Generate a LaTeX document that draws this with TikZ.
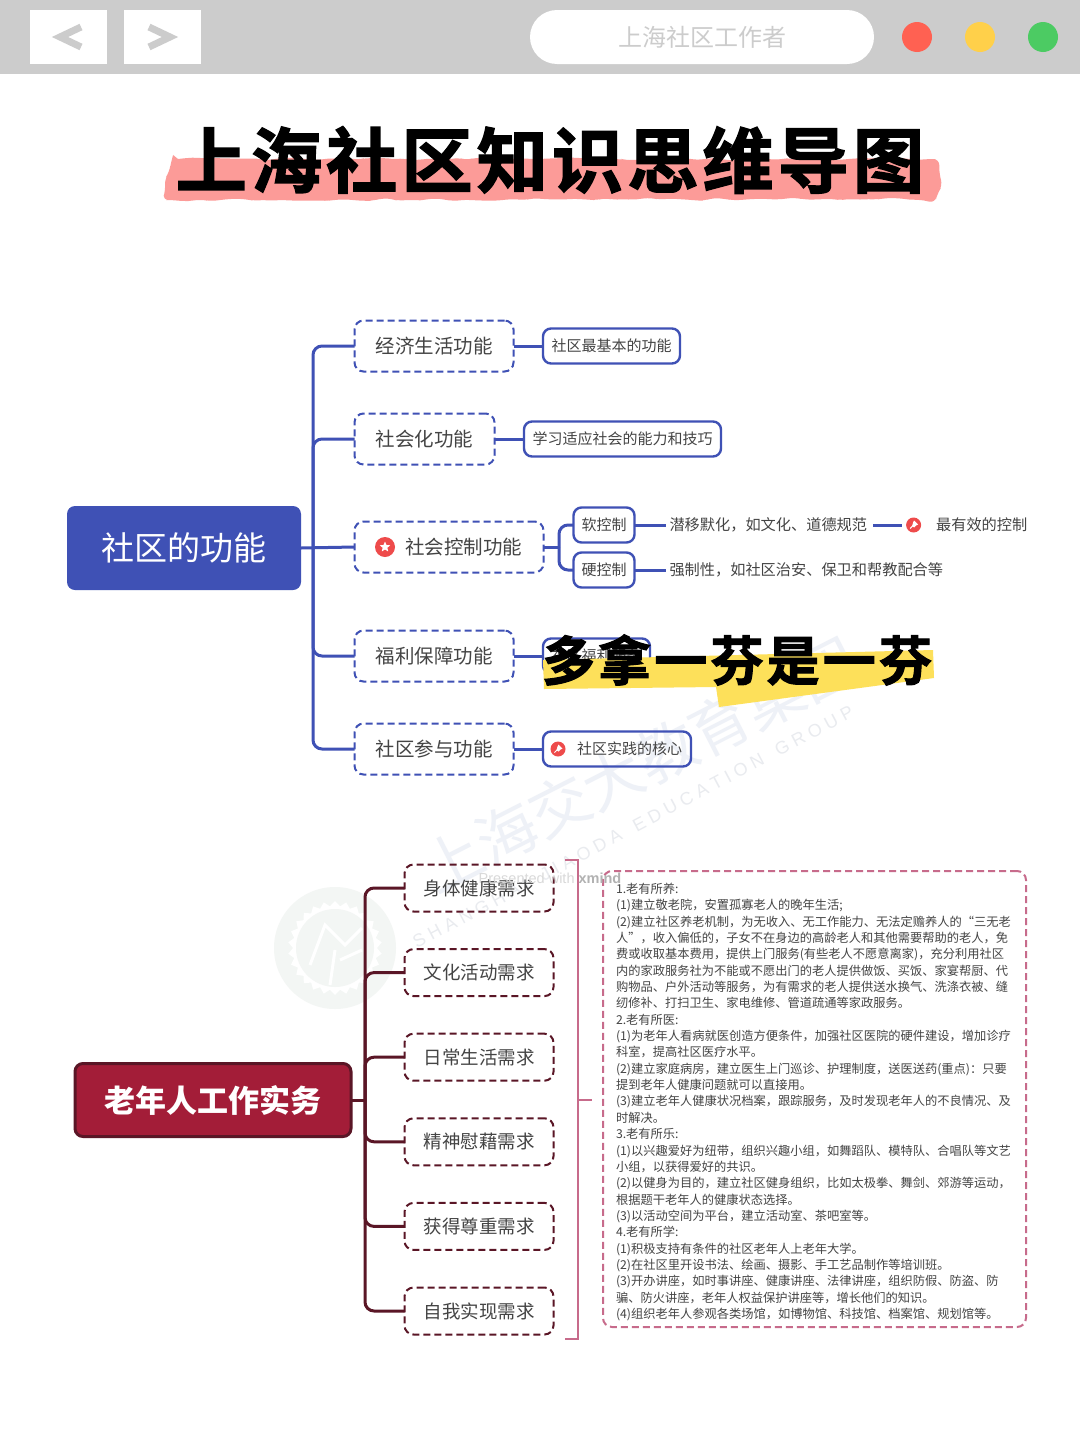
\documentclass[tikz,border=0pt]{standalone}
\usepackage{fontspec}
\setmainfont{Noto Sans CJK SC}
\newfontfamily\heavyfont[FakeBold=2,LetterSpace=6]{Noto Sans CJK SC Bold}
\newfontfamily\latinfont{Liberation Sans}
\usetikzlibrary{positioning,shapes.geometric,decorations.pathmorphing}

\definecolor{barGray}{HTML}{CCCCCC}
\definecolor{blueMain}{HTML}{3F51B5}
\definecolor{redMain}{HTML}{A31D38}
\definecolor{redDark}{HTML}{5A1626}
\definecolor{pinkLine}{HTML}{C76B8B}
\definecolor{bodyText}{HTML}{444444}
\definecolor{iconRed}{HTML}{EE4B4B}
\definecolor{markBlue}{HTML}{EEF1F7}
\definecolor{markGray}{HTML}{E9EBEF}
\definecolor{markDisc}{HTML}{F3F6F4}

\tikzset{
  every node/.style={inner sep=0pt,outer sep=0pt,text=bodyText},
  bluedash/.style={draw=blueMain,line width=2pt,dashed,dash pattern=on 7pt off 4pt,rounded corners=9pt,minimum height=51pt,font=\fontsize{19.5}{24}\selectfont},
  blueleaf/.style={draw=blueMain,line width=2.4pt,rounded corners=8pt,minimum height=35pt,font=\fontsize{15}{18}\selectfont},
  bluenote/.style={inner sep=4pt,font=\fontsize{15.2}{18}\selectfont},
  bluelink/.style={draw=blueMain,line width=3pt,rounded corners=9pt},
  reddash/.style={draw=redDark,line width=2pt,dashed,dash pattern=on 7pt off 4pt,rounded corners=9pt,minimum width=149pt,minimum height=47pt,font=\fontsize{18.5}{24}\selectfont},
  redlink/.style={draw=redDark,line width=3pt,rounded corners=9pt},
  staricon/.style={circle,fill=iconRed,minimum size=20pt,path picture={\node[star,star points=5,star point ratio=2.2,fill=white,minimum size=11pt] at (path picture bounding box.center) {};}},
  pinicon/.style={circle,fill=iconRed,minimum size=15pt,path picture={
    \fill[white,shift={(path picture bounding box.center)}] (0.5,-4.5) -- (4.5,-0.5) -- (2.5,0.5) -- (0.5,2.5) -- (-1.5,1) -- (-0.5,-2.5) -- cycle;
    \draw[white,line width=1pt,shift={(path picture bounding box.center)}] (-0.5,0.5) -- (-3.5,3.5);}},
}

\begin{document}
\begin{tikzpicture}[x=1pt,y=-1pt]
\useasboundingbox (0,0) rectangle (1080,1443);
\fill[white] (0,0) rectangle (1080,1443);

\fill[barGray] (0,0) rectangle (1080,74);
\node[fill=white,minimum width=77pt,minimum height=54pt] (back) at (68.5,37) {};
\node[fill=white,minimum width=77pt,minimum height=54pt,right=17pt of back] (forward) {};
\draw[barGray,line width=7pt] (81,27) -- (60,37) -- (81,47);
\draw[barGray,line width=7pt] (149,27) -- (170,37) -- (149,47);
\node[fill=white,rounded corners=27pt,minimum width=344pt,minimum height=54pt,text=barGray,font=\fontsize{24}{28}\selectfont] (search) at (702,37) {上海社区工作者};
\node[circle,fill={rgb,255:red,255;green,97;blue,82},minimum size=30pt] (dotr) at (917,37) {};
\node[circle,fill={rgb,255:red,255;green,208;blue,74},minimum size=30pt,right=33pt of dotr] (doty) {};
\node[circle,fill={rgb,255:red,76;green,203;blue,99},minimum size=30pt,right=33pt of doty] (dotg) {};

\fill[fill={rgb,255:red,252;green,155;blue,152},rounded corners=6pt,decorate,decoration={random steps,segment length=9pt,amplitude=1.5pt}] (172,159) -- (935,159) -- (941,180) -- (936,199) -- (166,200) -- (165,185) -- cycle;
\node[text=black,font=\heavyfont\fontsize{71}{80}\selectfont] (title) at (550,160) {上海社区知识思维导图};

\fill[markDisc] (335,948) circle (61);
\node[star,star points=26,star point ratio=1.12,fill=white,minimum size=94pt] (gear) at (335,948) {};
\fill[markDisc] (gear.center) circle (39);
\draw[white,line width=3pt] (310,965) -- (325,925) -- (345,945) -- (362,928);
\draw[white,line width=3pt] (335,950) -- (330,985);
\draw[white,line width=3pt] (340,960) -- (362,950);
\node[rotate=27,text=markBlue,font=\fontsize{60}{64}\selectfont] (markcn) at (640,765) {上海交大教育集团};
\node[rotate=28,text=markGray,font=\latinfont\fontsize{18}{22}\selectfont] (marken) at (633,827) {S H A N G H A I\ \ \ J I A O D A\ \ \ E D U C A T I O N\ \ \ G R O U P};

\node[fill=blueMain,rounded corners=8pt,minimum width=234pt,minimum height=84pt,text=white,font=\fontsize{33}{40}\selectfont] (func) at (184,548) {社区的功能};
\node[bluedash,minimum width=159pt] (a) at (434,346) {经济生活功能};
\node[bluedash,minimum width=140pt,below right=42pt and 0pt of a.south west] (b) {社会化功能};
\node[bluedash,minimum width=189pt,below right=57pt and 0pt of b.south west] (c) {\hspace{29pt}社会控制功能};
\node[bluedash,minimum width=159pt,below right=58pt and 0pt of c.south west] (d) {福利保障功能};
\node[bluedash,minimum width=159pt,below right=42pt and 0pt of d.south west] (e) {社区参与功能};
\node[staricon] (cstar) at (385,547) {};

\node[blueleaf,minimum width=137pt,right=29.5pt of a] (aleaf) {社区最基本的功能};
\node[blueleaf,minimum width=197pt,right=29.5pt of b] (bleaf) {学习适应社会的能力和技巧};
\node[blueleaf,minimum width=61pt,above right=4.5pt and 30pt of c.east] (soft) {软控制};
\node[blueleaf,minimum width=61pt,below right=5.5pt and 30pt of c.east] (hard) {硬控制};
\node[blueleaf,minimum width=107pt,right=29.5pt of d] (dleaf) {社区福利服务};
\node[blueleaf,minimum width=148pt,right=29.5pt of e] (eleaf) {\hspace{25pt}社区实践的核心};
\node[pinicon] (epin) at (558,749) {};

\node[bluenote,right=31pt of soft] (softnote) {潜移默化，如文化、道德规范};
\node[pinicon,right=35pt of softnote] (softpin) {};
\node[bluenote,right=11pt of softpin] (softend) {最有效的控制};
\node[bluenote,right=31pt of hard] (hardnote) {强制性，如社区治安、保卫和帮教配合等};

\coordinate (bluespine) at (313,547);
\draw[bluelink] (func.east) -- (c.west);
\foreach \n in {a,b,d,e}
  \draw[bluelink] (bluespine) |- (\n.west);
\draw[bluelink] (a) -- (aleaf);
\draw[bluelink] (b) -- (bleaf);
\draw[bluelink] (d) -- (dleaf);
\draw[bluelink] (e) -- (eleaf);
\coordinate (softfork) at (559,547);
\draw[bluelink] (c.east) -- (softfork);
\draw[bluelink] (softfork) |- (soft.west);
\draw[bluelink] (softfork) |- (hard.west);
\draw[bluelink] (soft) -- (softnote);
\draw[bluelink] (hard) -- (hardnote);
\draw[bluelink,shorten <=2pt,shorten >=4pt] (softnote) -- (softpin);

\fill[fill={rgb,255:red,253;green,224;blue,90}] (543,660) -- (933,650) -- (934,678) -- (719,707) -- (716,687) -- (544,689) -- cycle;
\node[text=black,font=\heavyfont\fontsize{53}{60}\selectfont] (banner) at (737,660) {多拿一芬是一芬};

\node[fill=redMain,draw=redDark,line width=3pt,rounded corners=8pt,minimum width=276pt,minimum height=73pt,text=white,font=\bfseries\fontsize{31}{36}\selectfont] (elder) at (213,1100) {老年人工作实务};
\node[reddash] (r1) at (479,888) {身体健康需求};
\node[reddash,below=37.6pt of r1] (r2) {文化活动需求};
\node[reddash,below=37.6pt of r2] (r3) {日常生活需求};
\node[reddash,below=37.6pt of r3] (r4) {精神慰藉需求};
\node[reddash,below=37.6pt of r4] (r5) {获得尊重需求};
\node[reddash,below=37.6pt of r5] (r6) {自我实现需求};

\coordinate (redspine) at (365,1100);
\draw[redlink] (elder.east) -- (redspine);
\foreach \n in {r1,r2,r3,r4,r5,r6}
  \draw[redlink] (redspine) |- (\n.west);

\node[draw=pinkLine,line width=2pt,dashed,dash pattern=on 7pt off 4pt,rounded corners=9pt,minimum width=423pt,minimum height=456pt] (detail) at (814.5,1099) {};
\node[anchor=north west,align=left,font=\fontsize{12.25}{16.35}\selectfont] (detailtext) at (616,883) {1.老有所养:\\
(1)建立敬老院，安置孤寡老人的晚年生活;\\
(2)建立社区养老机制，为无收入、无工作能力、无法定赡养人的“三无老\\
人”，收入偏低的，子女不在身边的高龄老人和其他需要帮助的老人，免\\
费或收取基本费用，提供上门服务(有些老人不愿意离家)，充分利用社区\\
内的家政服务社为不能或不愿出门的老人提供做饭、买饭、家宴帮厨、代\\
购物品、户外活动等服务，为有需求的老人提供送水换气、洗涤衣被、缝\\
纫修补、打扫卫生、家电维修、管道疏通等家政服务。\\
2.老有所医:\\
(1)为老年人看病就医创造方便条件，加强社区医院的硬件建设，增加诊疗\\
科室，提高社区医疗水平。\\
(2)建立家庭病房，建立医生上门巡诊、护理制度，送医送药(重点)：只要\\
提到老年人健康问题就可以直接用。\\
(3)建立老年人健康状况档案，跟踪服务，及时发现老年人的不良情况、及\\
时解决。\\
3.老有所乐:\\
(1)以兴趣爱好为纽带，组织兴趣小组，如舞蹈队、模特队、合唱队等文艺\\
小组，以获得爱好的共识。\\
(2)以健身为目的，建立社区健身组织，比如太极拳、舞剑、郊游等运动，\\
根据题干老年人的健康状态选择。\\
(3)以活动空间为平台，建立活动室、茶吧室等。\\
4.老有所学:\\
(1)积极支持有条件的社区老年人上老年大学。\\
(2)在社区里开设书法、绘画、摄影、手工艺品制作等培训班。\\
(3)开办讲座，如时事讲座、健康讲座、法律讲座，组织防假、防盗、防\\
骗、防火讲座，老年人权益保护讲座等，增长他们的知识。\\
(4)组织老年人参观各类场馆，如博物馆、科技馆、档案馆、规划馆等。};

\coordinate (bracktop) at (565,860);
\coordinate (brackbot) at (565,1339);
\coordinate (bracktip) at (592,1100);
\draw[pinkLine,line width=2pt] (bracktop) -- ++(13,0) |- (brackbot);
\draw[pinkLine,line width=2pt] (578,1100) -- (bracktip);

\node[text=gray!30,font=\latinfont\fontsize{14.5}{16}\selectfont] (xmind) at (550,878) {Presented with \textcolor{gray!60}{\textbf{xmind}}};
\end{tikzpicture}
\end{document}
